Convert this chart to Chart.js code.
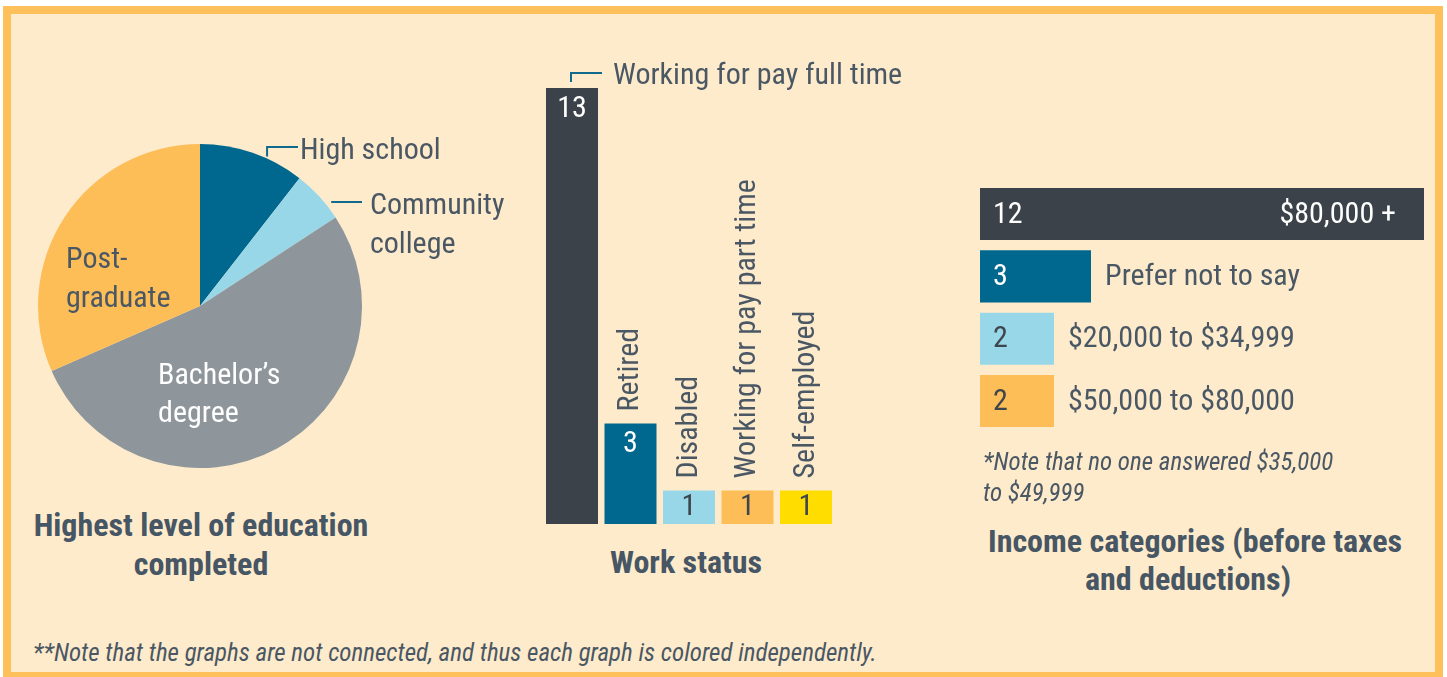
<!DOCTYPE html>
<html>
<head>
<meta charset="utf-8">
<script src="https://cdn.jsdelivr.net/npm/chart.js@4.4.1/dist/chart.umd.min.js"></script>
<style>
  html, body { margin:0; padding:0; background:#ffffff; }
  body { width:1447px; height:677px; position:relative; overflow:hidden; }
  #frame { position:absolute; left:3px; top:6px; width:1440px; height:674px; box-sizing:border-box;
           border:8px solid #FDC05A; background:#FEEBCB; }
  canvas { position:absolute; }
  .title { position:absolute; text-align:center; color:#475664; font-weight:bold;
           font-family:'Liberation Sans Narrow','Roboto Condensed','DejaVu Sans Condensed',sans-serif;
           font-size:32px; line-height:39px; white-space:nowrap; }
  .note { position:absolute; color:#4A5764; font-style:italic;
          font-family:'Liberation Sans Narrow','Roboto Condensed','DejaVu Sans Condensed',sans-serif;
          white-space:nowrap; }
</style>
</head>
<body>
<div id="frame"></div>
<canvas id="edu" width="520" height="380" style="left:20px; top:120px;"></canvas>
<canvas id="work" width="420" height="500" style="left:520px; top:40px;"></canvas>
<canvas id="income" width="480" height="280" style="left:960px; top:170px;"></canvas>

<div class="title" style="left:1px; width:400px; top:506px;">Highest level of education<br>completed</div>
<div class="title" style="left:486px; width:400px; top:543px;">Work status</div>
<div class="title" style="left:988px; width:400px; top:522px; line-height:38px;">Income categories (before taxes<br>and deductions)</div>
<div class="note" style="left:983px; top:446px; font-size:25px; line-height:31px;">*Note that no one answered $35,000<br>to $49,999</div>
<div class="note" style="left:33px; top:639px; font-size:25px; line-height:28px;">**Note that the graphs are not connected, and thus each graph is colored independently.</div>

<script>
// ---------------- DATA ----------------
const eduLabels = ['High school', 'Community college', 'Bachelor’s degree', 'Post-graduate'];
const eduValues = [2, 1, 10, 6];

const workLabels = ['Working for pay full time', 'Retired', 'Disabled', 'Working for pay part time', 'Self-employed'];
const workValues = [13, 3, 1, 1, 1];

const incomeLabels = ['$80,000 +', 'Prefer not to say', '$20,000 to $34,999', '$50,000 to $80,000'];
const incomeValues = [12, 3, 2, 2];

// ---------------- STYLE ----------------
const FONT = "'Liberation Sans Narrow','Roboto Condensed','DejaVu Sans Condensed',sans-serif";
const TEXT = '#4A5764';
const DARKNUM = '#3E454C';
const LEADER = '#0F6A8E';
const LABELFONT = '30px ' + FONT;

const eduColors = ['#00678F', '#97D7E8', '#8E969C', '#FDBE58'];
const eduLines = [['High school'], ['Community', 'college'], ['Bachelor’s', 'degree'], ['Post-', 'graduate']];

const workColors = ['#3C4249', '#00678F', '#97D7E8', '#FDBE58', '#FFDD00'];
const workNumColors = ['#ffffff', '#ffffff', DARKNUM, DARKNUM, DARKNUM];

const incomeColors = ['#3C4249', '#00678F', '#97D7E8', '#FDBE58'];
const incomeNumColors = ['#ffffff', '#ffffff', DARKNUM, DARKNUM];

Chart.defaults.font.family = FONT;

// ---------------- PIE ----------------
const eduPlugin = {
  id: 'eduLabels',
  afterDatasetsDraw(chart) {
    const ctx = chart.ctx;
    const arc0 = chart.getDatasetMeta(0).data[0];
    const cx = arc0.x, cy = arc0.y, r = arc0.outerRadius;
    ctx.save();
    ctx.font = LABELFONT;
    ctx.textBaseline = 'alphabetic';
    ctx.textAlign = 'left';
    ctx.lineWidth = 2;
    ctx.strokeStyle = LEADER;

    // High school (leader line)
    {
      const lx = cx + 0.414 * r;
      const edgeY = cy - Math.sqrt(r * r - (lx - cx) * (lx - cx));
      const ly = cy - 0.981 * r;
      ctx.beginPath();
      ctx.moveTo(lx, edgeY - 2);
      ctx.lineTo(lx, ly);
      ctx.lineTo(cx + 0.605 * r, ly);
      ctx.stroke();
      ctx.fillStyle = TEXT;
      ctx.fillText(eduLines[0][0], cx + 0.617 * r, ly + 12);
    }
    // Community college (leader line)
    {
      const ly = cy - 0.642 * r;
      const edgeX = cx + Math.sqrt(r * r - (ly - cy) * (ly - cy));
      ctx.beginPath();
      ctx.moveTo(edgeX + 7, ly);
      ctx.lineTo(cx + 1.0 * r, ly);
      ctx.stroke();
      ctx.fillStyle = TEXT;
      ctx.fillText(eduLines[1][0], cx + 1.049 * r, ly + 12);
      ctx.fillText(eduLines[1][1], cx + 1.049 * r, ly + 51);
    }
    // Bachelor's (inside, white)
    {
      const x = cx - 0.259 * r, y = cy + 0.414 * r;
      ctx.fillStyle = '#ffffff';
      ctx.fillText(eduLines[2][0], x, y + 11);
      ctx.fillText(eduLines[2][1], x, y + 49);
    }
    // Post-graduate (inside)
    {
      const x = cx - 0.827 * r, y = cy - 0.302 * r;
      ctx.fillStyle = TEXT;
      ctx.fillText(eduLines[3][0], x, y + 11);
      ctx.fillText(eduLines[3][1], x, y + 50);
    }
    ctx.restore();
  }
};

new Chart(document.getElementById('edu'), {
  type: 'pie',
  data: {
    labels: eduLabels,
    datasets: [{ data: eduValues, backgroundColor: eduColors, borderWidth: 0 }]
  },
  options: {
    responsive: false, devicePixelRatio: 1, animation: false,
    layout: { padding: { left: 18, top: 24, right: 178, bottom: 32 } },
    plugins: { legend: { display: false }, tooltip: { enabled: false } }
  },
  plugins: [eduPlugin]
});

// ---------------- WORK STATUS BARS ----------------
const workPlugin = {
  id: 'workLabels',
  afterDatasetsDraw(chart) {
    const ctx = chart.ctx;
    const bars = chart.getDatasetMeta(0).data;
    ctx.save();
    ctx.font = LABELFONT;
    bars.forEach((b, i) => {
      // value label
      const h = b.base - b.y;
      const vy = Math.min(b.y + 21, b.y + h / 2);
      ctx.fillStyle = workNumColors[i];
      ctx.textAlign = 'center';
      ctx.textBaseline = 'middle';
      ctx.fillText(String(workValues[i]), b.x, vy);
      // category label
      if (i === 0) {
        const ly = b.y - 15;
        ctx.strokeStyle = LEADER;
        ctx.lineWidth = 2;
        ctx.beginPath();
        ctx.moveTo(b.x - 1, b.y - 6);
        ctx.lineTo(b.x - 1, ly);
        ctx.lineTo(b.x + 30, ly);
        ctx.stroke();
        ctx.fillStyle = TEXT;
        ctx.textAlign = 'left';
        ctx.textBaseline = 'alphabetic';
        ctx.fillText(workLabels[i], b.x + 41, ly + 11);
      } else {
        ctx.save();
        ctx.translate(b.x, b.y - 12);
        ctx.rotate(-Math.PI / 2);
        ctx.fillStyle = TEXT;
        ctx.textAlign = 'left';
        ctx.textBaseline = 'middle';
        ctx.fillText(workLabels[i], 0, 0);
        ctx.restore();
      }
    });
    ctx.restore();
  }
};

new Chart(document.getElementById('work'), {
  type: 'bar',
  data: {
    labels: workLabels,
    datasets: [{ data: workValues, backgroundColor: workColors, borderWidth: 0,
                 categoryPercentage: 1.0, barPercentage: 0.889 }]
  },
  options: {
    responsive: false, devicePixelRatio: 1, animation: false,
    layout: { padding: { left: 22.75, right: 104.75, top: 48, bottom: 16 } },
    scales: {
      x: { display: false },
      y: { display: false, min: 0, max: 13 }
    },
    plugins: { legend: { display: false }, tooltip: { enabled: false } }
  },
  plugins: [workPlugin]
});

// ---------------- INCOME BARS ----------------
const incomePlugin = {
  id: 'incomeLabels',
  afterDatasetsDraw(chart) {
    const ctx = chart.ctx;
    const bars = chart.getDatasetMeta(0).data;
    ctx.save();
    ctx.font = LABELFONT;
    ctx.textBaseline = 'middle';
    bars.forEach((b, i) => {
      ctx.fillStyle = incomeNumColors[i];
      ctx.textAlign = 'left';
      ctx.fillText(String(incomeValues[i]), b.base + 13, b.y + 1);
      if (i === 0) {
        ctx.fillStyle = '#ffffff';
        ctx.textAlign = 'right';
        ctx.fillText(incomeLabels[i], b.x - 28, b.y + 1);
      } else {
        ctx.fillStyle = TEXT;
        ctx.textAlign = 'left';
        ctx.fillText(incomeLabels[i], b.x + 14, b.y + 1);
      }
    });
    ctx.restore();
  }
};

new Chart(document.getElementById('income'), {
  type: 'bar',
  data: {
    labels: incomeLabels,
    datasets: [{ data: incomeValues, backgroundColor: incomeColors, borderWidth: 0,
                 categoryPercentage: 1.0, barPercentage: 0.835 }]
  },
  options: {
    indexAxis: 'y',
    responsive: false, devicePixelRatio: 1, animation: false,
    layout: { padding: { left: 20, right: 16, top: 12.9, bottom: 17.8 } },
    scales: {
      x: { display: false, min: 0, max: 12 },
      y: { display: false }
    },
    plugins: { legend: { display: false }, tooltip: { enabled: false } }
  },
  plugins: [incomePlugin]
});
</script>
</body>
</html>
